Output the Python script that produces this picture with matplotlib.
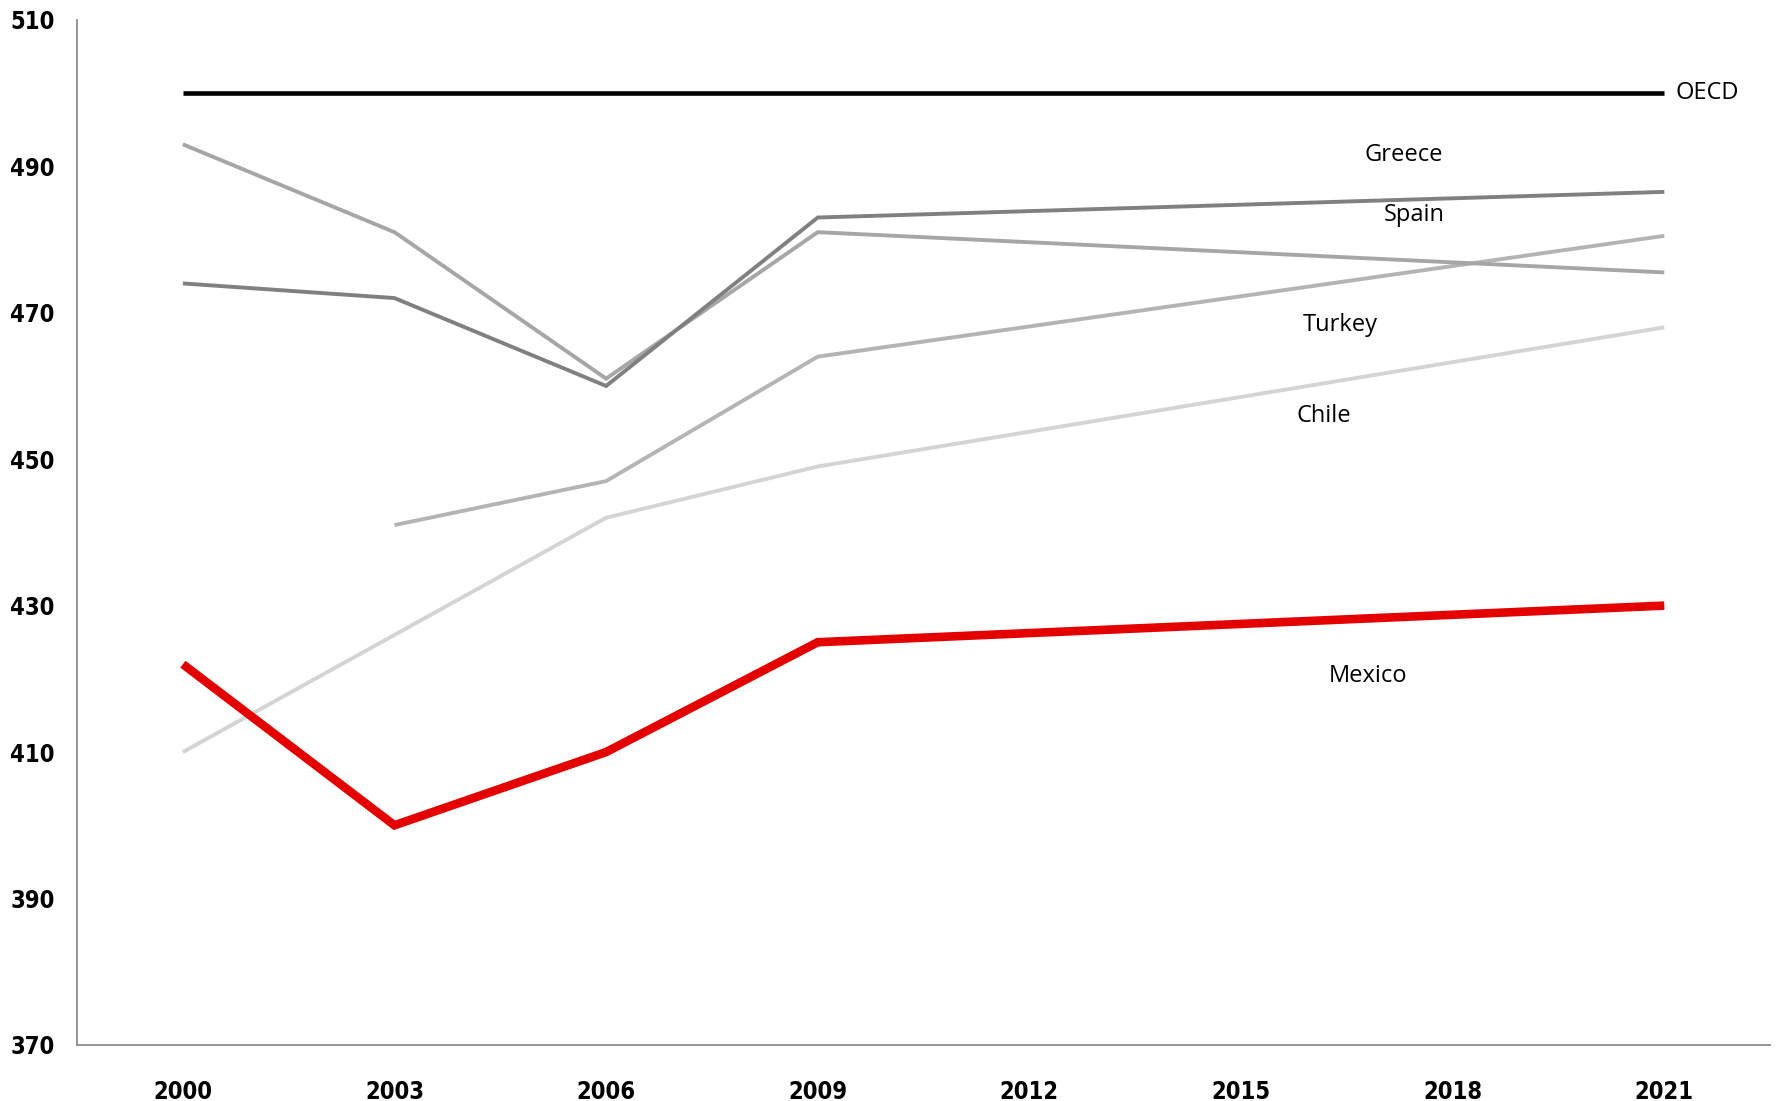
import matplotlib.pyplot as plt
import numpy as np

years = ['2000', '2003', '2006', '2009', '2012', '2015', '2018', '2021']

# scores per year, None where the chart has no point
oecd = [500, 500, 500, 500, 500, 500, 500, 500]
greece = [474, 472, 460, 483, None, None, None, 486.5]
spain = [493, 481, 461, 481, None, None, None, 475.5]
turkey = [None, 441, 447, 464, None, None, None, 480.5]
chile = [410, None, 442, 449, None, None, None, 468]
mexico = [422, 400, 410, 425, None, None, None, 430]

yticks = [370, 390, 410, 430, 450, 470, 490, 510]

fig = plt.figure(figsize=(17.79, 11.01), dpi=100)
ax = fig.add_axes([0.0433, 0.0509, 0.9517, 0.9311])


def draw(vals, color, lw):
    # skip the gaps, Excel-style connected line
    xs = [i for i, v in enumerate(vals) if v is not None]
    ys = [v for v in vals if v is not None]
    ax.plot(xs, ys, color=color, linewidth=lw, solid_capstyle='butt', solid_joinstyle='miter')


draw(chile, '#d4d4d4', 2.8)
draw(turkey, '#b4b4b4', 2.8)
draw(spain, '#a6a6a6', 2.8)
draw(greece, '#808080', 2.8)
draw(mexico, '#e50000', 6.2)
draw(oecd, 'black', 3.3)

ax.set_xlim(-0.5, 7.5)
ax.set_ylim(370, 510)
ax.set_xticks(range(len(years)))
ax.set_xticklabels(years)
ax.set_yticks(yticks)

for s in ['top', 'right']:
    ax.spines[s].set_visible(False)
for s in ['left', 'bottom']:
    ax.spines[s].set_color('#8c8c8c')
    ax.spines[s].set_linewidth(1.3)

ax.tick_params(axis='both', length=0)
ax.tick_params(axis='x', pad=25)
ax.tick_params(axis='y', pad=16)
for lab in ax.get_xticklabels() + ax.get_yticklabels():
    lab.set_family(['DejaVu Sans', 'Liberation Sans'])
    lab.set_stretch('condensed')
    lab.set_fontweight('semibold')
    lab.set_fontsize(17)

lbl = dict(fontsize=17, family=['Open Sans', 'DejaVu Sans'], color='black')
ax.annotate('OECD', (7, oecd[-1]), xytext=(8, 0), textcoords='offset points',
            ha='left', va='center', **lbl)
ax.text(5.77, 491.6, 'Greece', ha='center', va='center', **lbl)
ax.text(5.82, 483.3, 'Spain', ha='center', va='center', **lbl)
ax.text(5.47, 468.3, 'Turkey', ha='center', va='center', **lbl)
ax.text(5.39, 455.9, 'Chile', ha='center', va='center', **lbl)
ax.text(5.60, 420.4, 'Mexico', ha='center', va='center', **lbl)

fig.savefig('out.png', dpi=100)
